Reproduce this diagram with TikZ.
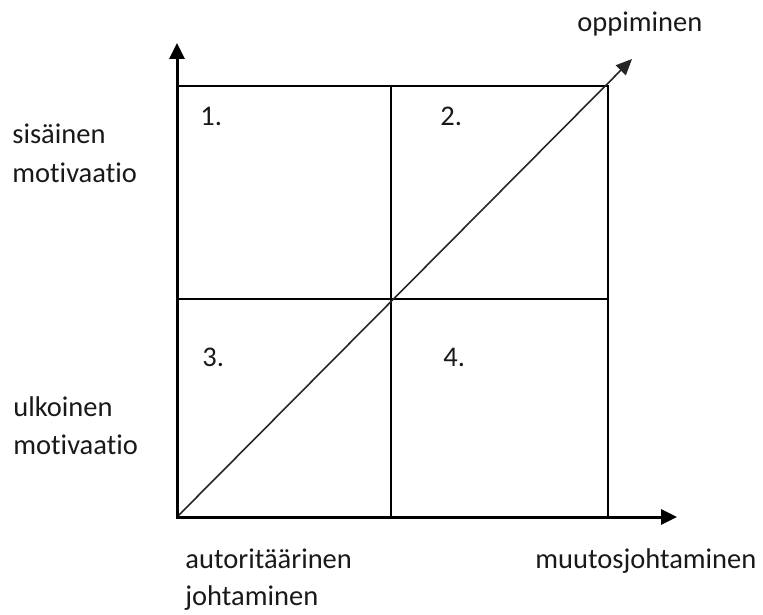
\documentclass[tikz,border=0pt]{standalone}
\usepackage{fontspec}
\setmainfont{Carlito}[Ligatures={NoCommon}]
\usetikzlibrary{arrows.meta}
\begin{document}
\begin{tikzpicture}[
    x=0.5pt, y=-0.5pt,
    axisline/.style={line width=1.5pt, line join=miter, {Triangle[length=8pt, width=7.5pt]}-{Triangle[length=8pt, width=7.5pt]}},
    gridline/.style={line width=0.75pt},
    diagline/.style={line width=0.8pt, draw=black!85, -{Triangle[length=8pt, width=7pt]}},
    lbl/.style={anchor=base west, inner sep=0pt, font=\fontsize{14.25pt}{19pt}\selectfont, text=black!90},
]
\useasboundingbox (0,0) rectangle (763,614);

% ruudukon kulmat ja keskikohdat
\coordinate (O)    at (177,517);
\coordinate (tl)   at (177,86);
\coordinate (tr)   at (608,86);
\coordinate (br)   at (608,517);
\coordinate (mt)   at (391,86);
\coordinate (mb)   at (391,517);
\coordinate (ml)   at (177,299);
\coordinate (mr)   at (608,299);
\coordinate (ytip) at (177,43);
\coordinate (xtip) at (677,517);
\coordinate (dtip) at (632,59);

% ruudukko
\draw[gridline] (tl) -- (tr) -- (br);
\draw[gridline] (mt) -- (mb);
\draw[gridline] (ml) -- (mr);

% oppimisen nuoli
\draw[diagline] (O) -- (dtip);

% akselit
\draw[axisline] (ytip) -- (O) -- (xtip);

% ruutujen numerot
\node[lbl] (n1) at (200,126) {1.};
\node[lbl] (n2) at (440,126) {2.};
\node[lbl] (n3) at (202,366) {3.};
\node[lbl] (n4) at (443,366) {4.};

% akselien tekstit
\node[lbl] (opp)  at (577,32)  {oppiminen};
\node[lbl] (sis1) at (12,144)  {sisäinen};
\node[lbl] (sis2) at (12,183)  {motivaatio};
\node[lbl] (ulk1) at (13,416)  {ulkoinen};
\node[lbl] (ulk2) at (13,454)  {motivaatio};
\node[lbl] (aut1) at (185,568) {autoritäärinen};
\node[lbl] (aut2) at (185,605) {johtaminen};
\node[lbl] (muu)  at (535,568) {muutosjohtaminen};

\end{tikzpicture}
\end{document}
